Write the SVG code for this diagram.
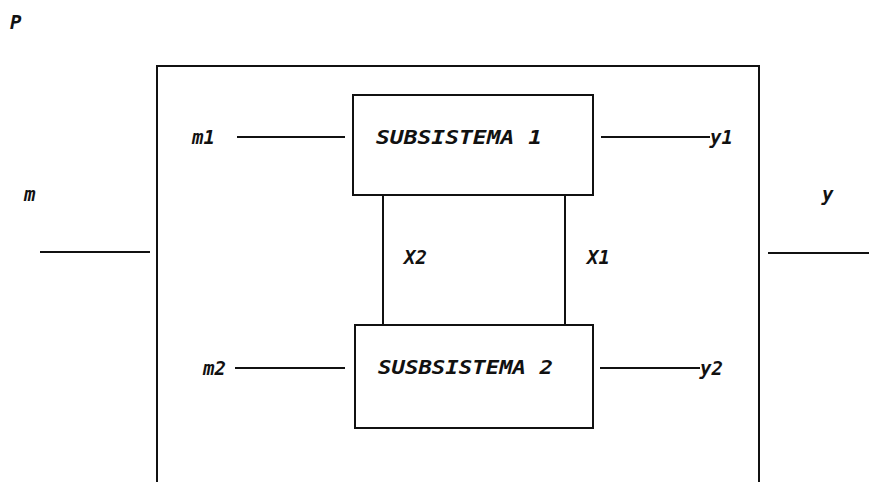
<svg xmlns="http://www.w3.org/2000/svg" width="869" height="482" viewBox="0 0 869 482">
<style>
.ln{stroke:#111;stroke-width:2;fill:none}
.bx{stroke:#111;stroke-width:2;fill:#fff}
text{font-family:"DejaVu Sans Mono","Liberation Mono",monospace;font-style:italic;font-weight:bold;font-size:19px;fill:#111}
</style>
<rect width="869" height="482" fill="#fff"/>
<g id="P">
<path class="ln" d="M157,482 V66 H759 V482"/>
<text x="10" y="29">P</text>
</g>
<g id="sub1">
<rect class="bx" x="353" y="95" width="240" height="100"/>
<text x="376" y="144" textLength="166" lengthAdjust="spacingAndGlyphs">SUBSISTEMA 1</text>
</g>
<g id="sub2">
<rect class="bx" x="355" y="325" width="238" height="103"/>
<text x="378" y="374" textLength="175" lengthAdjust="spacingAndGlyphs">SUSBSISTEMA 2</text>
</g>
<g id="connectors">
<line class="ln" x1="40" y1="252" x2="150" y2="252"/>
<line class="ln" x1="768" y1="253" x2="869" y2="253"/>
<line class="ln" x1="237" y1="137" x2="345" y2="137"/>
<line class="ln" x1="601" y1="137" x2="710" y2="137"/>
<line class="ln" x1="235" y1="368" x2="345" y2="368"/>
<line class="ln" x1="600" y1="368" x2="700" y2="368"/>
<line class="ln" x1="383" y1="195" x2="383" y2="325"/>
<line class="ln" x1="565" y1="195" x2="565" y2="325"/>
</g>
<g id="labels">
<text x="24" y="201">m</text>
<text x="822" y="201">y</text>
<text x="192" y="144">m1</text>
<text x="710" y="144">y1</text>
<text x="203" y="375">m2</text>
<text x="700" y="375">y2</text>
<text x="404" y="264">X2</text>
<text x="587" y="264">X1</text>
</g>
</svg>
